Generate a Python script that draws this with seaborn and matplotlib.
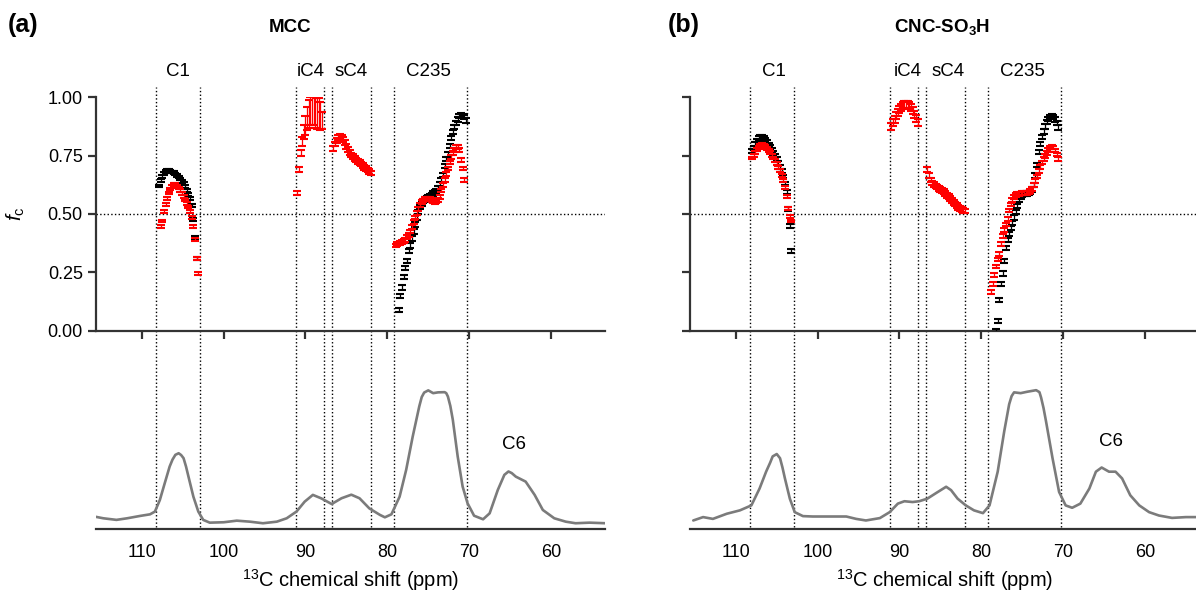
import numpy as np
import pandas as pd
import matplotlib
matplotlib.use("Agg")
import matplotlib.pyplot as plt
import matplotlib.transforms as mtransforms
import seaborn as sns

# 1. Data ---------------------------------------------------------------
STEP = 0.2  # ppm spacing of the fc points

# region borders (ppm) and region labels
bounds = [108.3, 102.9, 91.2, 87.8, 86.8, 82.0, 79.2, 70.3]
region_names = ["C1", "iC4", "sC4", "C235"]
mcc_label_ppm = [105.6, 89.4, 84.4, 75.0]
cnc_label_ppm = [105.4, 89.0, 84.1, 75.0]

# --- MCC fc values (first ppm, then one value every STEP ppm) ---
mcc_c1_black_start = 107.9
mcc_c1_black = [0.62, 0.645, 0.662, 0.675, 0.682, 0.685, 0.685, 0.683, 0.680, 0.676,
                0.671, 0.665, 0.658, 0.650, 0.640, 0.630, 0.617, 0.602, 0.585, 0.565,
                0.535, 0.475, 0.40, 0.31]
mcc_c1_red_start = 107.7
mcc_c1_red = [0.445, 0.47, 0.51, 0.54, 0.565, 0.59, 0.607, 0.618, 0.626, 0.626,
              0.620, 0.611, 0.600, 0.588, 0.574, 0.560, 0.545, 0.530, 0.510, 0.485,
              0.445, 0.39, 0.31, 0.245]
mcc_ic4_red_start = 91.0
mcc_ic4_red = [0.59, 0.69, 0.76, 0.81, 0.85, 0.88, 0.91, 0.93, 0.94, 0.94,
               0.94, 0.935, 0.93, 0.93, 0.92, 0.90]
mcc_ic4_red_err = [0.008, 0.01, 0.012, 0.02, 0.03, 0.04, 0.05, 0.06, 0.06, 0.06,
                   0.06, 0.065, 0.065, 0.065, 0.06, 0.035]
mcc_sc4_red_start = 86.6
mcc_sc4_red = [0.78, 0.80, 0.815, 0.828, 0.832, 0.828, 0.818, 0.805, 0.79, 0.775,
               0.762, 0.752, 0.745, 0.738, 0.731, 0.726, 0.72, 0.714, 0.708, 0.70,
               0.695, 0.688, 0.682, 0.675]
mcc_c235_black_start = 78.6
mcc_c235_black = [0.09, 0.15, 0.185, 0.23, 0.27, 0.30, 0.34, 0.365, 0.395, 0.425,
                  0.455, 0.485, 0.51, 0.53, 0.545, 0.555, 0.562, 0.567, 0.572, 0.577,
                  0.582, 0.588, 0.594, 0.60, 0.612, 0.627, 0.645, 0.667, 0.705, 0.735,
                  0.755, 0.79, 0.825, 0.85, 0.873, 0.89, 0.905, 0.92, 0.925, 0.92,
                  0.915, 0.90]
mcc_c235_red_start = 79.0
mcc_c235_red = [0.365, 0.37, 0.373, 0.376, 0.38, 0.385, 0.39, 0.40, 0.41, 0.425,
                0.445, 0.465, 0.485, 0.505, 0.522, 0.538, 0.55, 0.558, 0.563, 0.566,
                0.566, 0.564, 0.56, 0.555, 0.552, 0.553, 0.56, 0.574, 0.60, 0.625,
                0.645, 0.67, 0.695, 0.72, 0.745, 0.762, 0.774, 0.786, 0.786, 0.775,
                0.731, 0.695, 0.645]

# --- CNC-SO3H fc values ---
cnc_c1_black_start = 108.0
cnc_c1_black = [0.77, 0.785, 0.80, 0.815, 0.825, 0.83, 0.83, 0.825, 0.818, 0.808,
                0.798, 0.786, 0.774, 0.762, 0.75, 0.735, 0.718, 0.70, 0.683, 0.66,
                0.63, 0.595, 0.52, 0.45, 0.34]
cnc_c1_red_start = 108.0
cnc_c1_red = [0.74, 0.75, 0.762, 0.775, 0.785, 0.792, 0.796, 0.795, 0.79, 0.782,
              0.772, 0.762, 0.752, 0.74, 0.728, 0.715, 0.70, 0.685, 0.665, 0.643,
              0.615, 0.575, 0.525, 0.49, 0.47]
cnc_ic4_red_start = 91.0
cnc_ic4_red = [0.875, 0.89, 0.905, 0.92, 0.935, 0.948, 0.958, 0.965, 0.968, 0.97,
               0.968, 0.964, 0.955, 0.943, 0.928, 0.91, 0.89]
cnc_sc4_red_start = 86.6
cnc_sc4_red = [0.69, 0.665, 0.645, 0.632, 0.625, 0.62, 0.615, 0.61, 0.605, 0.60,
               0.595, 0.588, 0.58, 0.574, 0.566, 0.558, 0.55, 0.542, 0.535, 0.528,
               0.522, 0.518, 0.515, 0.512]
cnc_c235_black_start = 78.2
cnc_c235_black = [0.00, 0.04, 0.13, 0.20, 0.245, 0.30, 0.355, 0.39, 0.415, 0.44,
                  0.46, 0.485, 0.51, 0.535, 0.56, 0.574, 0.58, 0.584, 0.586, 0.588,
                  0.59, 0.595, 0.605, 0.625, 0.665, 0.71, 0.765, 0.80, 0.83, 0.853,
                  0.875, 0.895, 0.908, 0.917, 0.92, 0.917, 0.905, 0.89, 0.87]
cnc_c235_red_start = 78.8
cnc_c235_red = [0.165, 0.20, 0.24, 0.275, 0.305, 0.33, 0.37, 0.405, 0.43, 0.455,
                0.48, 0.515, 0.54, 0.56, 0.573, 0.58, 0.585, 0.587, 0.588, 0.589,
                0.589, 0.589, 0.59, 0.592, 0.597, 0.607, 0.625, 0.64, 0.66, 0.683,
                0.70, 0.72, 0.735, 0.748, 0.762, 0.775, 0.785, 0.787, 0.785, 0.772,
                0.755, 0.735]

# --- 13C spectra (ppm, relative intensity) ---
mcc_spec_ppm = [115.7, 114.7, 113.1, 111.8, 110.2, 109.0, 108.4, 107.8, 107.2, 106.6,
                106.25, 105.9, 105.5, 105.2, 104.9, 104.6, 104.3, 103.7, 103.1, 102.5,
                101.7, 100.0, 98.4, 96.8, 95.2, 93.5, 92.3, 91.1, 90.1, 89.1,
                88.1, 86.8, 85.6, 84.4, 83.4, 82.2, 80.9, 80.3, 79.5, 78.5,
                77.7, 76.9, 76.1, 75.8, 75.5, 75.0, 74.4, 73.8, 73.0, 72.8,
                72.6, 72.3, 72.0, 71.4, 70.8, 70.2, 69.4, 68.3, 67.5, 66.5,
                65.7, 65.2, 64.8, 64.3, 63.1, 62.0, 61.0, 59.6, 58.2, 57.0,
                55.3, 53.3]
mcc_spec_int = [0.062, 0.054, 0.046, 0.054, 0.066, 0.074, 0.088, 0.146, 0.231, 0.315,
                0.350, 0.374, 0.382, 0.373, 0.357, 0.315, 0.264, 0.163, 0.088, 0.046,
                0.032, 0.034, 0.042, 0.037, 0.029, 0.037, 0.054, 0.088, 0.138, 0.172,
                0.155, 0.126, 0.155, 0.173, 0.155, 0.104, 0.071, 0.059, 0.074, 0.163,
                0.298, 0.466, 0.618, 0.665, 0.688, 0.699, 0.685, 0.689, 0.690, 0.685,
                0.668, 0.620, 0.551, 0.365, 0.214, 0.130, 0.067, 0.049, 0.079, 0.197,
                0.273, 0.290, 0.282, 0.264, 0.239, 0.172, 0.096, 0.054, 0.037, 0.029,
                0.032, 0.029]
cnc_spec_ppm = [115.2, 114.0, 112.8, 111.1, 109.5, 108.1, 107.1, 106.3, 105.8, 105.5,
                105.0, 104.6, 104.3, 104.0, 103.4, 102.8, 101.8, 100.6, 98.5, 96.5,
                95.3, 94.1, 92.4, 91.2, 90.2, 89.4, 88.4, 87.6, 86.6, 85.5,
                84.3, 83.7, 82.9, 81.9, 80.9, 79.8, 79.0, 78.0, 77.2, 76.6,
                76.3, 76.0, 75.2, 74.4, 73.3, 72.9, 72.7, 72.4, 72.1, 71.3,
                70.5, 69.7, 68.9, 67.9, 66.8, 66.0, 65.3, 64.4, 63.6, 62.8,
                61.8, 60.7, 59.5, 58.3, 56.7, 55.0, 53.8]
cnc_spec_int = [0.043, 0.060, 0.051, 0.077, 0.094, 0.119, 0.204, 0.289, 0.335, 0.366,
                0.378, 0.357, 0.310, 0.255, 0.153, 0.085, 0.065, 0.063, 0.063, 0.063,
                0.051, 0.043, 0.055, 0.085, 0.128, 0.140, 0.136, 0.140, 0.153, 0.182,
                0.213, 0.196, 0.153, 0.119, 0.094, 0.080, 0.119, 0.289, 0.493, 0.629,
                0.670, 0.689, 0.685, 0.692, 0.700, 0.690, 0.663, 0.610, 0.544, 0.357,
                0.187, 0.119, 0.107, 0.128, 0.204, 0.289, 0.310, 0.289, 0.289, 0.255,
                0.170, 0.119, 0.085, 0.068, 0.056, 0.060, 0.060]

# 2. Style ----------------------------------------------------------------
sns.set_style("ticks")
plt.rcParams['font.family'] = ['Liberation Sans', 'DejaVu Sans']
plt.rcParams['mathtext.fontset'] = 'custom'
plt.rcParams['mathtext.rm'] = 'Liberation Sans'
plt.rcParams['mathtext.it'] = 'Liberation Sans:italic'
plt.rcParams['mathtext.bf'] = 'Liberation Sans:bold'
plt.rcParams['text.color'] = 'black'
plt.rcParams['axes.labelcolor'] = 'black'
plt.rcParams['xtick.labelcolor'] = 'black'
plt.rcParams['ytick.labelcolor'] = 'black'

SPINE = '#333333'
XLIM = (115.6, 53.4)
ERR = 0.006


def draw_panel(fig, left, series, spec_ppm, spec_int, label_ppm, c6_pos, ylabels):
    ax_b = fig.add_axes([left, 0.1139, 0.4256, 0.3322])
    ax_t = fig.add_axes([left, 0.4461, 0.4256, 0.391])
    for ax in (ax_t, ax_b):
        ax.patch.set_visible(False)
        ax.set_xlim(*XLIM)

    # fc points with error bars
    for start, vals, err, color in series:
        x = start - STEP * np.arange(len(vals))
        ax_t.errorbar(x, vals, yerr=err, fmt='none', ecolor=color,
                      elinewidth=0.9, capsize=2.6, capthick=1.5, zorder=3)

    ax_t.set_ylim(0, 1.0)
    ax_t.set_yticks([0, 0.25, 0.5, 0.75, 1.0])
    if ylabels:
        ax_t.set_yticklabels(["0.00", "0.25", "0.50", "0.75", "1.00"])
        ax_t.set_ylabel(r"$\it{f}_\mathrm{c}$", fontsize=15)
        ax_t.yaxis.set_label_coords(-0.135, 0.5)
    else:
        ax_t.set_yticklabels([])
    ax_t.set_xticks([110, 100, 90, 80, 70, 60])
    ax_t.set_xticklabels([])
    for s in ('top', 'right'):
        ax_t.spines[s].set_visible(False)
    for s in ('left', 'bottom'):
        ax_t.spines[s].set_linewidth(1.6)
        ax_t.spines[s].set_color(SPINE)
    ax_t.tick_params(axis='both', length=6, width=1.6, color=SPINE,
                     labelsize=13, direction='out')
    ax_t.axhline(0.5, ls=':', lw=1, color='k', zorder=1)

    # spectrum
    spec = pd.DataFrame({'ppm': spec_ppm, 'I': spec_int})
    sns.lineplot(data=spec, x='ppm', y='I', ax=ax_b, color='#7b7b7b', lw=1.9)
    for ln in ax_b.lines:
        ln.set_solid_joinstyle('round')
    ax_b.set_ylim(0, 1)
    ax_b.set_xlim(*XLIM)
    ax_b.set_yticks([])
    ax_b.set_ylabel('')
    ax_b.set_xticks([110, 100, 90, 80, 70, 60])
    ax_b.tick_params(axis='x', length=0, labelsize=13, pad=11)
    for s in ('top', 'right', 'left'):
        ax_b.spines[s].set_visible(False)
    ax_b.spines['bottom'].set_linewidth(1.6)
    ax_b.spines['bottom'].set_color(SPINE)
    ax_b.set_xlabel(r"$^{13}$C chemical shift (ppm)", fontsize=14.5, labelpad=4)
    ax_b.text(c6_pos[0], c6_pos[1], "C6", fontsize=13.5, ha='center', va='center')

    # region borders
    for b in bounds:
        ax_t.axvline(b, ymin=0, ymax=1.044, clip_on=False, ls=':', lw=1, color='k', zorder=1)
        ax_b.axvline(b, ymin=0.01, ymax=1, ls=':', lw=1, color='k', zorder=1)

    trans = mtransforms.blended_transform_factory(ax_t.transData, ax_t.transAxes)
    for name, p in zip(region_names, label_ppm):
        ax_t.text(p, 1.109, name, transform=trans, fontsize=13.5,
                  ha='center', va='center')
    return ax_t, ax_b


fig = plt.figure(figsize=(11.96, 5.97), dpi=100)

mcc_series = [
    (mcc_c1_black_start, mcc_c1_black, ERR, 'black'),
    (mcc_c1_red_start, mcc_c1_red, ERR, 'red'),
    (mcc_ic4_red_start, mcc_ic4_red, mcc_ic4_red_err, 'red'),
    (mcc_sc4_red_start, mcc_sc4_red, 0.01, 'red'),
    (mcc_c235_black_start, mcc_c235_black, 0.009, 'black'),
    (mcc_c235_red_start, mcc_c235_red, 0.008, 'red'),
]
cnc_series = [
    (cnc_c1_black_start, cnc_c1_black, 0.008, 'black'),
    (cnc_c1_red_start, cnc_c1_red, ERR, 'red'),
    (cnc_ic4_red_start, cnc_ic4_red, 0.015, 'red'),
    (cnc_sc4_red_start, cnc_sc4_red, 0.01, 'red'),
    (cnc_c235_black_start, cnc_c235_black, 0.009, 'black'),
    (cnc_c235_red_start, cnc_c235_red, 0.008, 'red'),
]

draw_panel(fig, 96 / 1196, mcc_series, mcc_spec_ppm, mcc_spec_int,
           mcc_label_ppm, (64.5, 0.424), True)
draw_panel(fig, 690 / 1196, cnc_series, cnc_spec_ppm, cnc_spec_int,
           cnc_label_ppm, (64.2, 0.44), False)

fig.text(8 / 1196, 1 - 25 / 597, "(a)", fontsize=18, fontweight='bold', va='center')
fig.text(668 / 1196, 1 - 25 / 597, "(b)", fontsize=18, fontweight='bold', va='center')
fig.text(290 / 1196, 1 - 27 / 597, "MCC", fontsize=13.5, fontweight='bold',
         ha='center', va='center')
fig.text(942 / 1196, 1 - 27 / 597, r"CNC-SO$_\mathbf{3}$H", fontsize=13.5,
         fontweight='bold', ha='center', va='center')

fig.savefig("out.png", dpi=100)
